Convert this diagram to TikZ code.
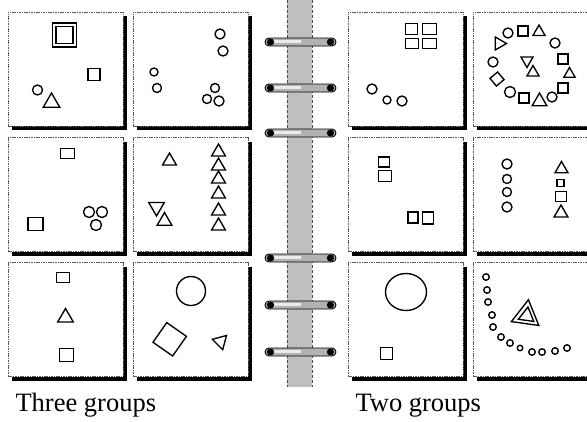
\documentclass[tikz,border=0pt]{standalone}
\usepackage{fontspec}
\setmainfont{Liberation Serif}
\usepackage{tikz}
\usetikzlibrary{shapes.geometric,shadows}
\newcommand{\bindring}[2]{%
  \node[ringbar] (#1) at (300.5,#2) {};
  \fill[black!8] ([xshift=4pt,yshift=2pt]#1.west) rectangle ([yshift=-1pt]#1.center);
  \fill ([xshift=6pt]#1.west) circle (3.6pt);
  \fill ([xshift=-6pt]#1.east) circle (3.6pt);}

\begin{document}
\begin{tikzpicture}[x=1pt,y=-1pt,
  pnl/.style={draw=black!65,dash pattern=on 1.6pt off 0.8pt,line width=0.5pt,fill=white,
    minimum width=115pt,minimum height=114pt,inner sep=0pt,
    drop shadow={shadow xshift=4pt,shadow yshift=-4pt,fill=black,opacity=1}},
  spine/.style={fill=black!25,minimum width=25pt,minimum height=387pt,inner sep=0pt},
  ringbar/.style={draw,line width=0.9pt,fill=black!30,rounded corners=4pt,
    minimum width=71pt,minimum height=8pt,inner sep=0pt},
  fig/.style={draw,line width=1.35pt,inner sep=0pt,fill=white},
  circ/.style={fig,circle,minimum size=#1},
  sqr/.style={fig,rectangle,minimum size=#1},
  tri/.style={fig,regular polygon,regular polygon sides=3,minimum size=#1},
  caption/.style={anchor=base west,font=\fontsize{26.5}{30}\selectfont}]
\useasboundingbox (0,0) rectangle (587,421);

% the binding
\node[spine] (spine) at (299.5,193.5) {};
\draw[black!70,densely dashed] (spine.north west) -- (spine.south west);
\draw[black!70,densely dashed] (spine.north east) -- (spine.south east);
\bindring{r1}{42}
\bindring{r2}{88}
\bindring{r3}{133}
\bindring{r4}{258}
\bindring{r5}{305}
\bindring{r6}{352}

% panels
\node[pnl] (pa) at (65.5,69) {};
\node[pnl] (pb) at (190.5,69) {};
\node[pnl] (pc) at (65.5,194.5) {};
\node[pnl] (pd) at (190.5,194.5) {};
\node[pnl] (pe) at (65.5,319.5) {};
\node[pnl] (pf) at (190.5,319.5) {};
\node[pnl] (pg) at (405.5,69) {};
\node[pnl] (ph) at (530.5,69) {};
\node[pnl] (pi) at (405.5,194.5) {};
\node[pnl] (pj) at (530.5,194.5) {};
\node[pnl] (pk) at (405.5,319.5) {};
\node[pnl] (pl) at (530.5,319.5) {};

% three groups
\node[sqr=24pt] (a1) at (64.5,35) {};
\node[sqr=17pt] (a2) at (64.5,35) {};
\node[sqr=12pt] (a3) at (94,74.5) {};
\node[circ=10pt] (a4) at (37.5,90) {};
\node[tri=19pt] (a5) at (51.5,102.5) {};

\node[circ=10pt] (b1) at (220,34) {};
\node[circ=10pt] (b2) at (223,51) {};
\node[circ=8pt] (b3) at (154,72) {};
\node[circ=9pt] (b4) at (157,88) {};
\node[circ=9pt] (b5) at (215,88) {};
\node[circ=9pt] (b6) at (207,99) {};
\node[circ=10pt] (b7) at (219,101) {};

\node[fig,minimum width=14pt,minimum height=10pt] (c1) at (67.5,153.5) {};
\node[fig,minimum width=15pt,minimum height=13pt] (c2) at (35.5,224) {};
\node[circ=11pt] (c3) at (89,212) {};
\node[circ=11pt] (c4) at (102,212) {};
\node[circ=11pt] (c5) at (96,225) {};

\node[tri=16pt] (d1) at (169.5,161) {};
\node[tri=18pt,rotate=180] (d2) at (156.5,207) {};
\node[tri=17pt] (d3) at (164.5,221) {};
\node[tri=16pt] (d4) at (218.5,152) {};
\node[tri=16pt] (d5) at (218.5,166) {};
\node[tri=16pt] (d6) at (218.5,179) {};
\node[tri=16pt] (d7) at (218.5,194) {};
\node[tri=16pt] (d8) at (218.5,211) {};
\node[tri=16pt] (d9) at (218.5,226) {};

\node[fig,minimum width=13pt,minimum height=10pt] (e1) at (63,277.5) {};
\node[tri=18pt] (e2) at (65.5,317.5) {};
\node[fig,minimum width=14pt,minimum height=13pt] (e3) at (66.5,355) {};

\node[circ=29pt] (f1) at (191,291) {};
\node[sqr=24pt,rotate=-35] (f2) at (169.7,339.3) {};
\node[tri=17pt,rotate=75] (f3) at (220.5,341.5) {};

% two groups
\node[fig,minimum width=12pt,minimum height=11pt] (g1) at (411.5,29) {};
\node[fig,minimum width=14pt,minimum height=11pt] (g2) at (429.5,29) {};
\node[fig,minimum width=13pt,minimum height=10pt] (g3) at (412,43.5) {};
\node[fig,minimum width=14pt,minimum height=10pt] (g4) at (429.5,43.5) {};
\node[circ=10pt] (g5) at (372,89) {};
\node[circ=8pt] (g6) at (387,100) {};
\node[circ=10pt] (g7) at (402,101) {};

\node[tri=15pt,rotate=-90] (h1) at (499,43.5) {};
\node[circ=10pt] (h2) at (508,33) {};
\node[sqr=10pt] (h3) at (523,31) {};
\node[tri=14pt] (h4) at (539,32) {};
\node[circ=10pt] (h5) at (555,43) {};
\node[sqr=10pt] (h6) at (563,59) {};
\node[tri=13pt] (h7) at (569.5,74) {};
\node[sqr=10pt] (h8) at (563,88) {};
\node[circ=10pt] (h9) at (552,97) {};
\node[tri=17pt] (h10) at (539.5,101.5) {};
\node[sqr=10pt] (h11) at (524,98) {};
\node[circ=11pt] (h12) at (510,92) {};
\node[sqr=10pt,rotate=40] (h13) at (497,79) {};
\node[circ=10pt] (h14) at (493,62) {};
\node[tri=14pt,rotate=180] (h15) at (527,60.5) {};
\node[tri=14pt] (h16) at (533,72.5) {};

\node[fig,minimum width=11pt,minimum height=10pt] (i1) at (384,162) {};
\node[fig,minimum width=13pt,minimum height=11pt] (i2) at (385,176) {};
\node[fig,minimum width=10pt,minimum height=11pt] (i3) at (413,217.5) {};
\node[fig,minimum width=11pt,minimum height=12pt] (i4) at (428,218) {};

\node[circ=10pt] (j1) at (507,164) {};
\node[circ=9pt] (j2) at (507,179) {};
\node[circ=9pt] (j3) at (507,192) {};
\node[circ=10pt] (j4) at (507,207) {};
\node[tri=15pt] (j5) at (561.5,169) {};
\node[sqr=7pt] (j6) at (560.5,183) {};
\node[fig,minimum width=11pt,minimum height=10pt] (j7) at (561,196.5) {};
\node[tri=16pt] (j8) at (561,213) {};

\node[fig,ellipse,minimum width=41pt,minimum height=37pt] (k1) at (406,292) {};
\node[sqr=12pt] (k2) at (386.5,353.5) {};

\node[tri=32pt,rotate=-8] (l1) at (526.2,315.6) {};
\node[tri=18pt,rotate=-8] (l2) at (526.7,315.9) {};
\node[circ=6.5pt] (l3) at (486,277) {};
\node[circ=6.5pt] (l4) at (487,290) {};
\node[circ=6.5pt] (l5) at (488,302) {};
\node[circ=6.5pt] (l6) at (492,315) {};
\node[circ=6.5pt] (l7) at (493,327) {};
\node[circ=6.5pt] (l8) at (501,337) {};
\node[circ=6.5pt] (l9) at (510,343) {};
\node[circ=5.5pt] (l10) at (520,348) {};
\node[circ=6.5pt] (l11) at (532,352) {};
\node[circ=6.5pt] (l12) at (542,352) {};
\node[circ=6.5pt] (l13) at (555,351) {};
\node[circ=6.5pt] (l14) at (567,348) {};

\node[caption] (three) at (12,411) {Three groups};
\node[caption] (two) at (352,411) {Two groups};
\end{tikzpicture}
\end{document}
